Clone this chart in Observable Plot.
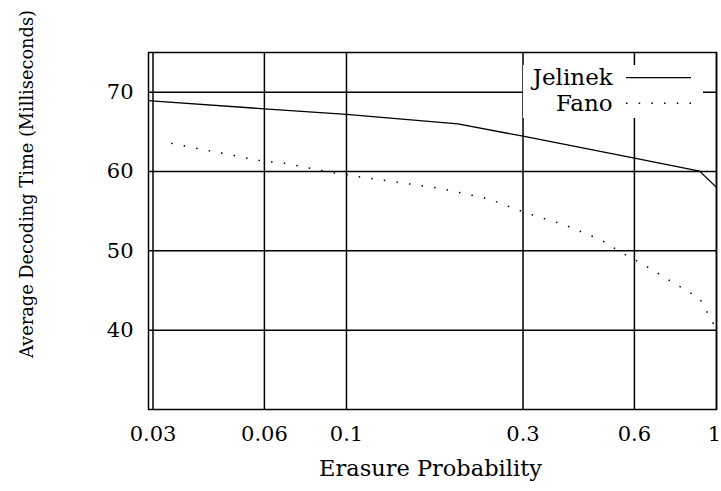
<!DOCTYPE html>
<html>
<head>
<meta charset="utf-8">
<script src="https://cdn.jsdelivr.net/npm/d3@7"></script>
<script src="https://cdn.jsdelivr.net/npm/@observablehq/plot@0.6"></script>
<style>
  html, body { margin: 0; padding: 0; background: #fff; }
  #wrap { position: relative; width: 721px; height: 491px; }
  #legend {
    position: absolute; left: 523px; top: 65px; width: 180px; height: 53px;
    background: #fff;
  }
  #legend svg { display: block; }
</style>
</head>
<body>
<div id="wrap">
  <div id="legend"></div>
</div>
<script>
// Average decoding time vs. erasure probability for two sequential decoders
const jelinekP = [0.029, 0.06, 0.1, 0.2, 0.3, 0.6, 0.9, 1.0];
const jelinekMs = [68.95, 67.9, 67.2, 66.0, 64.45, 61.7, 60.05, 58.0];

const fanoP = [0.0336, 0.0594, 0.0681, 0.093, 0.109, 0.178, 0.242, 0.307, 0.387, 0.486, 0.557, 0.634, 0.785, 0.9, 1.0];
const fanoMs = [63.55, 61.3, 61.05, 59.8, 59.3, 57.9, 56.55, 54.75, 53.3, 51.4, 49.7, 48.3, 45.65, 44.0, 40.1];

const xTicks = [0.03, 0.06, 0.1, 0.3, 0.6, 1];
const yTicks = [40, 50, 60, 70];

const seriesNames = ["Jelinek", "Fano"];
const xTitle = "Erasure Probability";
const yTitle = "Average Decoding Time (Milliseconds)";

const jelinek = jelinekP.map((p, i) => ({p, ms: jelinekMs[i]}));
const fano = fanoP.map((p, i) => ({p, ms: fanoMs[i]}));

const font = "'DejaVu Serif', serif";
const dotDash = "1.5 11.2";
const tickText = {text: d => String(d), frameAnchor: "bottom", dy: 25, lineAnchor: "middle", fontSize: 21, fill: "#000"};

const chart = Plot.plot({
  width: 721,
  height: 491,
  marginLeft: 148,
  marginRight: 5,
  marginTop: 52,
  marginBottom: 82,
  style: {fontFamily: font, background: "#fff", color: "#000"},
  x: {type: "log", domain: [0.02917, 1], axis: null},
  y: {domain: [30, 75], axis: null},
  marks: [
    Plot.gridX(xTicks, {stroke: "#000", strokeOpacity: 1, strokeWidth: 1.5}),
    Plot.gridY(yTicks, {stroke: "#000", strokeOpacity: 1, strokeWidth: 1.5}),
    // x tick labels; the last one sits at the right edge, so it is end-anchored
    Plot.text(xTicks.slice(0, -1), {x: d => d, ...tickText}),
    Plot.text(xTicks.slice(-1), {x: d => d, ...tickText, textAnchor: "end", dx: 4.5}),
    Plot.text(yTicks, {y: d => d, text: d => String(d), frameAnchor: "left", dx: -15, textAnchor: "end", lineAnchor: "middle", fontSize: 21, fill: "#000"}),
    Plot.line(jelinek, {x: "p", y: "ms", stroke: "#000", strokeWidth: 1.3, clip: true}),
    Plot.line(fano, {x: "p", y: "ms", stroke: "#000", strokeWidth: 1.5, strokeDasharray: dotDash, strokeLinecap: "butt", clip: true}),
    Plot.frame({stroke: "#000", strokeWidth: 1.5}),
    Plot.text([xTitle], {frameAnchor: "bottom", dx: -2, dy: 59, lineAnchor: "middle", textAnchor: "middle", fontSize: 22.5, fill: "#000"}),
    Plot.text([yTitle], {frameAnchor: "left", dx: -121, dy: -47, rotate: -90, lineAnchor: "middle", textAnchor: "middle", fontSize: 17.8, fill: "#000"})
  ]
});

const wrap = document.getElementById("wrap");
wrap.insertBefore(chart, wrap.firstChild);

// Legend: labels right-aligned, line samples to the right
const legend = d3.select("#legend").append("svg")
  .attr("width", 180).attr("height", 53)
  .style("font-family", font);
const rows = [
  {name: seriesNames[0], dash: null, y: 12.7},
  {name: seriesNames[1], dash: dotDash, y: 38.3}
];
rows.forEach(r => {
  legend.append("text")
    .attr("x", 89.7).attr("y", r.y)
    .attr("dy", "0.32em")
    .attr("text-anchor", "end")
    .attr("font-size", 23)
    .attr("fill", "#000")
    .text(r.name);
  legend.append("line")
    .attr("x1", 103).attr("x2", 168)
    .attr("y1", r.y).attr("y2", r.y)
    .attr("stroke", "#000")
    .attr("stroke-width", r.dash ? 1.5 : 1.3)
    .attr("stroke-dasharray", r.dash);
});
</script>
</body>
</html>
